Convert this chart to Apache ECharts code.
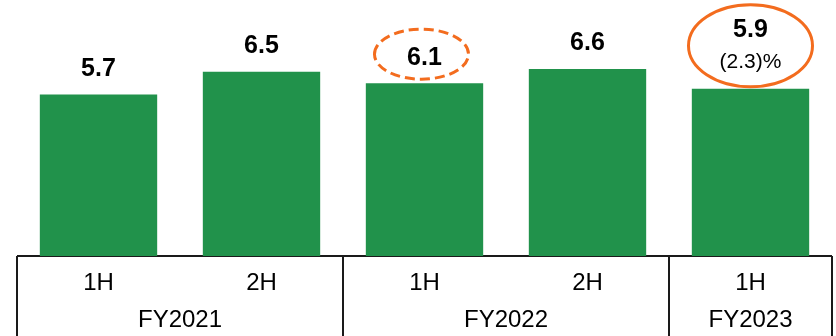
<!DOCTYPE html>
<html>
<head>
<meta charset="utf-8">
<script src="https://cdn.jsdelivr.net/npm/echarts@6/dist/echarts.min.js"></script>
<style>
  html, body { margin: 0; padding: 0; background: #fff; }
  #chart { width: 836px; height: 336px; }
</style>
</head>
<body>
<div id="chart"></div>
<script>
// Half-year periods and their fiscal-year groups
const halves = ['1H', '2H', '1H', '2H', '1H'];
const fiscalYears = ['FY2021', 'FY2022', 'FY2023'];
const yearSpans = [2, 2, 1];           // how many halves each fiscal year covers
const values = [5.7, 6.5, 6.1, 6.6, 5.9];
const changeNote = '(2.3)%';           // year-on-year change shown under the last value

const GREEN = '#21924B';
const ORANGE = '#F36C1E';
const LINE = '#1a1a1a';
const FONT = '"Liberation Sans", Arial, sans-serif';

const chart = echarts.init(document.getElementById('chart'));

const seriesData = values.map((v, i) => {
  const item = { value: v };
  if (i === values.length - 1) {
    item.label = {
      formatter: '{b|' + v.toFixed(1) + '}\n{s|' + changeNote + '}',
      rich: {
        b: { fontFamily: FONT, fontWeight: 'bold', fontSize: 25, color: '#000', lineHeight: 36 },
        s: { fontFamily: FONT, fontWeight: 'normal', fontSize: 21, color: '#000', lineHeight: 28 }
      }
    };
  }
  return item;
});

chart.setOption({
  animation: false,
  grid: { left: 17, right: 4, top: 1, bottom: 80, containLabel: false },
  xAxis: {
    type: 'category',
    data: halves,
    boundaryGap: true,
    axisLine: { show: false },
    axisTick: { show: false },
    axisLabel: {
      margin: 15,
      fontFamily: FONT,
      fontSize: 24,
      color: '#000'
    }
  },
  yAxis: {
    type: 'value',
    min: 0,
    max: 9,
    show: false
  },
  series: [{
    type: 'bar',
    data: seriesData,
    barCategoryGap: '28%',
    itemStyle: { color: GREEN },
    label: {
      show: true,
      position: 'top',
      distance: 13,
      fontFamily: FONT,
      fontWeight: 'bold',
      fontSize: 25,
      color: '#000',
      formatter: p => p.value.toFixed(1)
    }
  }]
});

// Table frame under the bars and the fiscal-year captions, placed from the axis scale
function drawOverlay() {
  const px = i => chart.convertToPixel({ xAxisIndex: 0 }, i);
  const baseY = chart.convertToPixel({ yAxisIndex: 0 }, 0);
  const step = px(1) - px(0);
  const edge = i => px(i) - step / 2;   // left boundary of category i
  const bottom = 336;
  const elements = [];

  // top rule of the table
  elements.push({
    type: 'line',
    shape: { x1: edge(0), y1: baseY, x2: edge(halves.length), y2: baseY },
    style: { stroke: LINE, lineWidth: 2 }
  });

  // vertical rules at every fiscal-year boundary
  let start = 0;
  const bounds = [0];
  yearSpans.forEach(n => { start += n; bounds.push(start); });
  bounds.forEach(b => {
    elements.push({
      type: 'line',
      shape: { x1: edge(b), y1: baseY, x2: edge(b), y2: bottom },
      style: { stroke: LINE, lineWidth: 2 }
    });
  });

  // fiscal-year captions centred under their halves
  fiscalYears.forEach((fy, k) => {
    const cx = (edge(bounds[k]) + edge(bounds[k + 1])) / 2;
    elements.push({
      type: 'text',
      x: cx,
      y: baseY + 64,
      style: {
        text: fy,
        fontFamily: FONT,
        fontSize: 24,
        fill: '#000',
        align: 'center',
        verticalAlign: 'middle'
      }
    });
  });

  // dashed ring around the FY2022 1H value
  const p2 = chart.convertToPixel({ seriesIndex: 0 }, [2, values[2]]);
  elements.push({
    type: 'ellipse',
    shape: { cx: p2[0] - 3, cy: p2[1] - 29, rx: 47, ry: 25 },
    style: { fill: 'none', stroke: ORANGE, lineWidth: 3, lineDash: [10, 5] }
  });

  // solid ring around the FY2023 1H value and its change
  const p4 = chart.convertToPixel({ seriesIndex: 0 }, [4, values[4]]);
  elements.push({
    type: 'ellipse',
    shape: { cx: p4[0], cy: p4[1] - 43, rx: 62, ry: 41 },
    style: { fill: 'none', stroke: ORANGE, lineWidth: 3 }
  });

  chart.setOption({ graphic: { elements } });
}
drawOverlay();
</script>
</body>
</html>
